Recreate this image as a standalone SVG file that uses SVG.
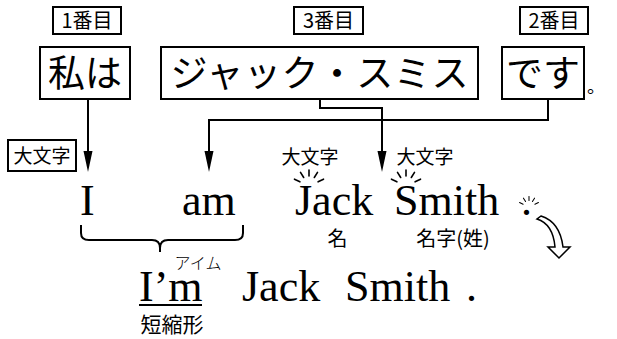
<svg xmlns="http://www.w3.org/2000/svg" width="617" height="339" viewBox="0 0 617 339">
<style>
.box{fill:#fff;stroke:#000;stroke-width:2}
.jp{font-family:"Noto Sans CJK JP","Noto Sans CJK SC",sans-serif;fill:#000}
.big{font-size:37px}
.lab{font-size:20px}
.en{font-family:"Liberation Serif","DejaVu Serif",serif;font-size:44px;fill:#000}
.con{fill:none;stroke:#000;stroke-width:2}
.sp{stroke:#000;stroke-width:1.6;stroke-linecap:round}
</style>
<defs>
<marker id="ah" markerUnits="userSpaceOnUse" markerWidth="21" markerHeight="10" refX="9" refY="5" orient="auto" viewBox="0 0 21 10">
<path d="M0,0.5 L21,5 L0,9.5 Z" fill="#000"/>
</marker>
<g id="spark">
<line class="sp" x1="-9.1" y1="-4.2" x2="-14.5" y2="-6.8"/>
<line class="sp" x1="-5.3" y1="-8.5" x2="-8.5" y2="-13.6"/>
<line class="sp" x1="0" y1="-10" x2="0" y2="-16"/>
<line class="sp" x1="5.3" y1="-8.5" x2="8.5" y2="-13.6"/>
<line class="sp" x1="9.1" y1="-4.2" x2="14.5" y2="-6.8"/>
</g>
</defs>

<g id="label1"><rect class="box" x="53" y="7" width="68" height="27"/><text class="jp lab" x="87" y="28" text-anchor="middle">1番目</text></g>
<g id="label3"><rect class="box" x="294" y="7" width="69" height="27"/><text class="jp lab" x="328.5" y="28" text-anchor="middle">3番目</text></g>
<g id="label2"><rect class="box" x="520" y="7" width="68" height="27"/><text class="jp lab" x="554" y="28" text-anchor="middle">2番目</text></g>

<g id="watashiwa"><rect class="box" x="40" y="47" width="90" height="52"/><text class="jp big" x="85" y="87" text-anchor="middle">私は</text></g>
<g id="jacksmith"><rect class="box" x="161" y="47" width="317" height="52"/><text class="jp big" x="319.5" y="87" text-anchor="middle" textLength="298">ジャック・スミス</text></g>
<g id="desu"><rect class="box" x="502" y="47" width="82" height="52"/><text class="jp big" x="543" y="87" text-anchor="middle">です</text></g>
<g id="maru"><text class="jp" font-size="18" x="587" y="93">。</text></g>

<g id="connectors">
<path class="con" d="M88,99 V160" marker-end="url(#ah)"/>
<path class="con" d="M320,99 V108 H382 V160" marker-end="url(#ah)"/>
<path class="con" d="M548,99 V120 H209 V160" marker-end="url(#ah)"/>
</g>

<g id="capital-left"><rect class="box" x="8" y="140" width="68" height="31"/><text class="jp" font-size="19" x="42" y="163" text-anchor="middle">大文字</text></g>

<g id="sentence1">
<text class="en" x="80" y="215">I</text>
<text class="en" x="182" y="215">am</text>
<text class="en" x="295" y="215">Jack</text>
<text class="en" x="394" y="215">Smith</text>
<text class="en" x="521" y="215">.</text>
</g>

<g id="capital-jack"><text class="jp" font-size="19" x="310" y="164" text-anchor="middle">大文字</text><use href="#spark" x="309" y="186"/></g>
<g id="capital-smith"><text class="jp" font-size="19" x="425" y="164" text-anchor="middle">大文字</text><use href="#spark" x="406" y="186"/></g>
<g id="period-spark"><use href="#spark" transform="translate(529 207) scale(0.65)"/></g>

<g id="given"><text class="jp" font-size="20" x="337.5" y="246" text-anchor="middle">名</text></g>
<g id="family"><text class="jp" font-size="20" x="453" y="246" text-anchor="middle">名字(姓)</text></g>

<g id="curved-arrow"><path d="M537,219 Q553,224 555,247 L548,247 L559,258 L570,247 L563,247 Q560,222 541,216 Z" fill="#fff" stroke="#000" stroke-width="1.5" stroke-linejoin="miter"/></g>

<g id="brace"><path class="con" stroke-width="1.8" d="M81,225 V233 Q81,240 89,240 H152 Q160,240 160,248 V252 M160,248 Q160,240 168,240 H235 Q243,240 243,233 V225"/></g>

<g id="sentence2">
<text class="en" x="139" y="301">I’m</text>
<line x1="139" y1="305" x2="202" y2="305" stroke="#000" stroke-width="2"/>
<text class="en" x="242" y="301">Jack</text>
<text class="en" x="345" y="301">Smith</text>
<text class="en" x="466" y="301">.</text>
</g>
<g id="aimu"><text class="jp" font-size="16" x="198" y="269" text-anchor="middle" font-weight="300">アイム</text></g>
<g id="tanshukukei"><text class="jp" font-size="21" x="172" y="332" text-anchor="middle">短縮形</text></g>
</svg>
